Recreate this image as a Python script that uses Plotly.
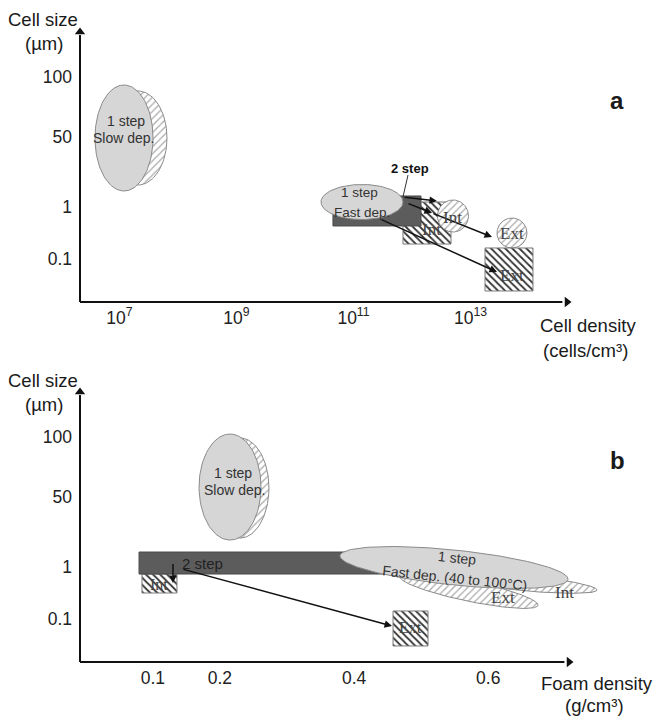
import numpy as np
import plotly.graph_objects as go

# ---------------- shared axis labels ----------------
size_ticks = ["100", "50", "1", "0.1"]
size_levels = [3.5, 2.346, 1.0, 0.0]          # schematic level of each cell-size label
level_range = [-0.827, 4.981]
level_arrow_tip = 4.365

# ---------------- panel a : cell size vs cell density ----------------
density_exp = [7, 9, 11, 13]                   # log10(cells/cm3)
density_ticks = ["10<sup>7</sup>", "10<sup>9</sup>", "10<sup>11</sup>", "10<sup>13</sup>"]
density_range = [6.325, 16.171]
density_arrow_tip = 14.65

# ellipses: (centre x, centre y, half-width, half-height)
a_slow_shadow = (7.316, 2.327, 0.496, 0.904)
a_slow = (7.077, 2.327, 0.496, 1.019)
a_fast = (11.145, 1.096, 0.701, 0.337)
a_int_circle = (12.701, 0.827, 0.265, 0.308)
a_ext_circle = (13.709, 0.500, 0.256, 0.288)
# boxes: (x0, x1, y0, y1)
a_two_step = (10.649, 12.154, 0.635, 1.212)
a_int_box = (11.846, 12.667, 0.288, 1.096)
a_ext_box = (13.248, 14.068, -0.615, 0.212)
# arrows: (x_from, y_from, x_to, y_to)
a_arrows = [
    (11.846, 1.192, 12.427, 1.115),
    (11.915, 1.077, 12.342, 0.885),
    (12.342, 0.885, 13.368, 0.423),
    (11.453, 0.769, 13.453, -0.250),
]
a_leader = ([11.932, 11.846], [1.615, 1.192])

# ---------------- panel b : cell size vs foam density ----------------
foam_vals = [0.1, 0.2, 0.4, 0.6]
foam_ticks = ["0.1", "0.2", "0.4", "0.6"]
foam_range = [-0.0086, 0.8502]
foam_arrow_tip = 0.7205

b_slow_shadow = (0.2299, 2.519, 0.0432, 0.962)
b_slow = (0.2151, 2.538, 0.0462, 1.019)
b_two_step = (0.0794, 0.4689, 0.865, 1.288)
b_int_box = (0.0838, 0.1360, 0.500, 0.865)
b_ext_box = (0.4581, 0.5103, -0.519, 0.154)
# tilted ellipses: (x_left, y_left, x_right, y_right, half-height)
b_fast = (0.3790, 1.212, 0.7190, 0.769, 0.337)
b_ext_ell = (0.4685, 0.808, 0.6743, 0.269, 0.200)
b_int_ell = (0.5282, 0.846, 0.7622, 0.558, 0.150)
b_arrows = [
    (0.1300, 1.096, 0.1300, 0.692),
    (0.1435, 0.962, 0.4566, -0.135),
]

LIGHT = "#d6d6d6"
DARK = "#5c5c5c"
EDGE = "#8a8a8a"
INK = "#111111"
SANS = "Liberation Sans, Arial, sans-serif"
SERIF = "Liberation Serif, Times New Roman, serif"

fig = go.Figure()
annotations = []


def refs(row):
    return ("x", "y") if row == 1 else ("x2", "y2")


def ellipse_xy(cx, cy, rx, ry, n=120):
    t = np.linspace(0, 2 * np.pi, n)
    return cx + rx * np.cos(t), cy + ry * np.sin(t)


def tilted_xy(x1, y1, x2, y2, h, n=160):
    t = np.linspace(0, 2 * np.pi, n)
    cx, cy = (x1 + x2) / 2, (y1 + y2) / 2
    ux, uy = (x2 - x1) / 2, (y2 - y1) / 2
    return cx + ux * np.cos(t), cy + uy * np.cos(t) + h * np.sin(t)


def box_xy(x0, x1, y0, y1):
    return [x0, x1, x1, x0, x0], [y0, y0, y1, y1, y0]


def patch(xs, ys, row, style):
    xa, ya = refs(row)
    kw = dict(x=list(xs), y=list(ys), xaxis=xa, yaxis=ya, mode="lines",
              fill="toself", hoverinfo="skip", showlegend=False)
    if style == "light":
        kw.update(fillcolor=LIGHT, line=dict(color=EDGE, width=1))
    elif style == "dark":
        kw.update(fillcolor=DARK, line=dict(color="#4a4a4a", width=1))
    elif style == "hatch_light":
        kw.update(fillcolor="white", line=dict(color=EDGE, width=1),
                  fillpattern=dict(shape="/", fgcolor="#ababab", bgcolor="white",
                                   size=5, solidity=0.25))
    elif style == "hatch_dark":
        kw.update(fillcolor="white", line=dict(color="#7a7a7a", width=1),
                  fillpattern=dict(shape="\\", fgcolor="#333333", bgcolor="white",
                                   size=5, solidity=0.35))
    fig.add_trace(go.Scatter(**kw))


def arrow(x0, y0, x1, y1, row, width=1.5):
    xr, yr = refs(row)
    annotations.append(dict(x=x1, y=y1, ax=x0, ay=y0, xref=xr, yref=yr,
                            axref=xr, ayref=yr, text=" ", showarrow=True,
                            arrowhead=2, arrowsize=1.0, arrowwidth=width,
                            arrowcolor=INK, standoff=0, startstandoff=0,
                            font=dict(size=1)))


def axis_head(x, y, row, symbol):
    xa, ya = refs(row)
    fig.add_trace(go.Scatter(
        x=[x], y=[y], xaxis=xa, yaxis=ya, mode="markers",
        marker=dict(symbol=symbol, size=9, color=INK, line=dict(width=0)),
        cliponaxis=False, hoverinfo="skip", showlegend=False))


# ---- panel a shapes ----
patch(*ellipse_xy(*a_slow_shadow), 1, "hatch_light")
patch(*ellipse_xy(*a_slow), 1, "light")
patch(*box_xy(*a_int_box), 1, "hatch_dark")
patch(*box_xy(*a_two_step), 1, "dark")
patch(*ellipse_xy(*a_fast), 1, "light")
patch(*ellipse_xy(*a_int_circle), 1, "hatch_light")
patch(*ellipse_xy(*a_ext_circle), 1, "hatch_light")
patch(*box_xy(*a_ext_box), 1, "hatch_dark")
fig.add_trace(go.Scatter(x=a_leader[0], y=a_leader[1], xaxis="x", yaxis="y",
                         mode="lines", line=dict(color="#333", width=1),
                         hoverinfo="skip", showlegend=False))

# ---- panel b shapes ----
patch(*box_xy(*b_int_box), 2, "hatch_dark")
patch(*box_xy(*b_two_step), 2, "dark")
patch(*ellipse_xy(*b_slow_shadow), 2, "hatch_light")
patch(*ellipse_xy(*b_slow), 2, "light")
patch(*tilted_xy(*b_int_ell), 2, "hatch_light")
patch(*tilted_xy(*b_ext_ell), 2, "hatch_light")
patch(*tilted_xy(*b_fast), 2, "light")
patch(*box_xy(*b_ext_box), 2, "hatch_dark")

for a in a_arrows:
    arrow(*a, 1)
for a in b_arrows:
    arrow(*a, 2)

# axis lines (drawn on the plot-area edges) with arrow heads
shapes = []
for row, xr, xtip in ((1, density_range, density_arrow_tip), (2, foam_range, foam_arrow_tip)):
    xa, ya = refs(row)
    ytip_frac = (level_arrow_tip - level_range[0]) / (level_range[1] - level_range[0])
    xtip_frac = (xtip - xr[0]) / (xr[1] - xr[0])
    shapes.append(dict(type="line", xref=f"{xa} domain", yref=f"{ya} domain",
                       x0=0, x1=0, y0=0, y1=ytip_frac - 0.01,
                       line=dict(color=INK, width=2)))
    shapes.append(dict(type="line", xref=f"{xa} domain", yref=f"{ya} domain",
                       x0=0, x1=xtip_frac - 0.008, y0=0, y1=0,
                       line=dict(color=INK, width=2)))
    axis_head(xr[0], level_arrow_tip, row, "triangle-up")
    axis_head(xtip, level_range[0], row, "triangle-right")


def label(x, y, text, row, size=14, family=SANS, color="#333", angle=0,
          bold=False, anchor="center"):
    xr, yr = refs(row)
    annotations.append(dict(x=x, y=y, xref=xr, yref=yr, text=text, showarrow=False,
                            textangle=angle, xanchor=anchor,
                            font=dict(family=family, size=size, color=color,
                                      weight="bold" if bold else "normal")))


def paper_text(x, y, text, size=18.5, bold=False):
    annotations.append(dict(x=x, y=y, xref="paper", yref="paper", text=text,
                            showarrow=False, xanchor="center", yanchor="middle",
                            font=dict(family=SANS, size=size, color="#1a1a1a",
                                      weight="bold" if bold else "normal")))


# panel a labels
label(7.11, 2.654, "1 step", 1)
label(7.06, 2.327, "Slow dep.", 1)
label(11.11, 1.27, "1 step", 1, size=13.5)
label(11.15, 0.90, "Fast dep.", 1, size=13.5)
label(11.97, 1.75, "2 step", 1, size=13, color="#111", bold=True)
label(12.34, 0.56, "Int", 1, size=17, family=SERIF, color="#444")
label(12.70, 0.79, "Int", 1, size=17, family=SERIF, color="#444")
label(13.71, 0.50, "Ext", 1, size=17, family=SERIF, color="#444")
label(13.71, -0.31, "Ext", 1, size=17, family=SERIF, color="#444")

# panel b labels
label(0.2195, 2.808, "1 step", 2)
label(0.2224, 2.481, "Slow dep.", 2)
label(0.140, 1.077, "2 step", 2, size=15, color="#222", anchor="left")
label(0.1092, 0.673, "Int", 2, size=16, family=SERIF, color="#444")
label(0.4838, -0.173, "Ext", 2, size=16, family=SERIF, color="#444")
label(0.5542, 1.173, "1 step", 2, size=14, angle=6)
label(0.5505, 0.788, "Fast dep. (40 to 100°C)", 2, size=14, angle=6)
label(0.6221, 0.404, "Ext", 2, size=17, family=SERIF, color="#444")
label(0.7145, 0.519, "Int", 2, size=17, family=SERIF, color="#444")

# axis titles and panel letters
W, H = 656, 716
paper_text(43 / W, 1 - 19 / H, "Cell size")
paper_text(44 / W, 1 - 44 / H, "(µm)")
paper_text(588 / W, 1 - 325 / H, "Cell density")
paper_text(585 / W, 1 - 350 / H, "(cells/cm³)")
paper_text(43 / W, 1 - 380 / H, "Cell size")
paper_text(44 / W, 1 - 404 / H, "(µm)")
paper_text(597 / W, 1 - 683 / H, "Foam density")
paper_text(594 / W, 1 - 705 / H, "(g/cm³)")
paper_text(617 / W, 1 - 100 / H, "a", size=24, bold=True)
paper_text(617 / W, 1 - 461 / H, "b", size=24, bold=True)

tickfont = dict(family=SANS, size=17.5, color="#222")
common = dict(showgrid=False, zeroline=False, showline=False, ticks="",
              automargin=False, fixedrange=True, tickfont=tickfont)

fig.update_layout(
    width=W, height=H, template="none",
    margin=dict(l=0, r=0, t=0, b=0),
    paper_bgcolor="white", plot_bgcolor="rgba(0,0,0,0)",
    showlegend=False,
    xaxis=dict(domain=[80 / W, 1], range=density_range, anchor="y",
               tickvals=density_exp, ticktext=density_ticks,
               ticklabelstandoff=3, **common),
    yaxis=dict(domain=[1 - 302 / H, 1], range=level_range, anchor="x",
               tickvals=size_levels, ticktext=size_ticks,
               ticklabelstandoff=7, **common),
    xaxis2=dict(domain=[80 / W, 1], range=foam_range, anchor="y2",
                tickvals=foam_vals, ticktext=foam_ticks,
                ticklabelstandoff=3, **common),
    yaxis2=dict(domain=[1 - 662 / H, 1 - 360 / H], range=level_range, anchor="x2",
                tickvals=size_levels, ticktext=size_ticks,
                ticklabelstandoff=7, **common),
    shapes=shapes,
    annotations=annotations,
)

fig.write_html("out.html")
